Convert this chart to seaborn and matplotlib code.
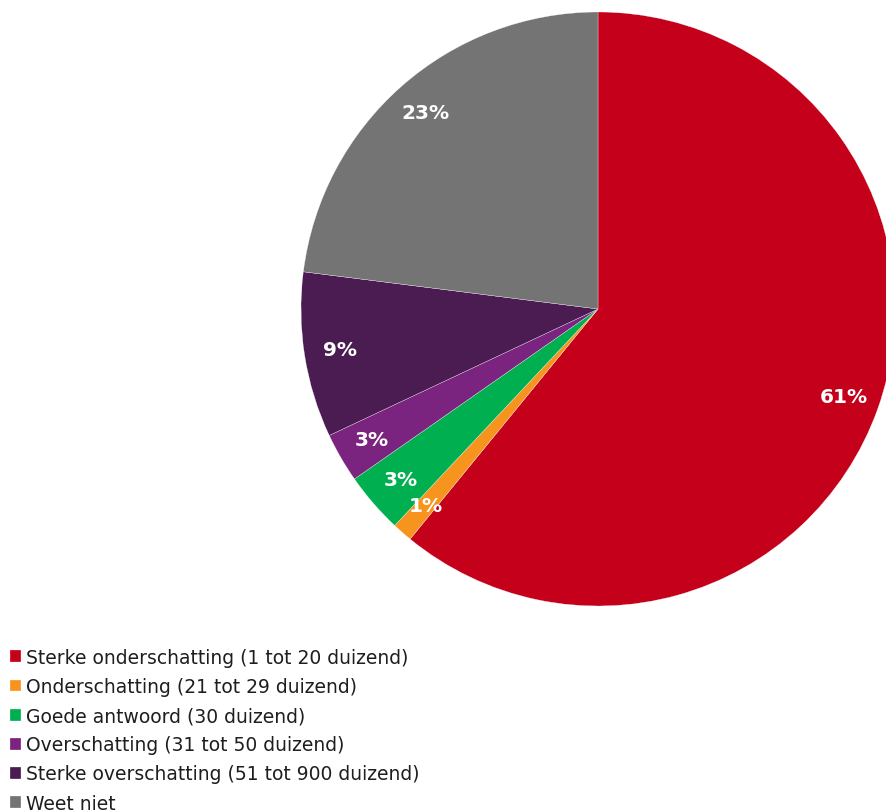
import matplotlib
matplotlib.use('Agg')
import matplotlib.pyplot as plt
import seaborn as sns

categories = ['Sterke onderschatting (1 tot 20 duizend)',
              'Onderschatting (21 tot 29 duizend)',
              'Goede antwoord (30 duizend)',
              'Overschatting (31 tot 50 duizend)',
              'Sterke overschatting (51 tot 900 duizend)',
              'Weet niet']
values = [60.9, 1.1, 3.3, 2.7, 9.0, 23.0]
hex_colors = ['#C5001A', '#F7941D', '#00B050', '#7A237F', '#4A1C52', '#747474']

sns.set_style('white')
plt.rcParams['font.family'] = ['DejaVu Sans']
plt.rcParams['text.color'] = '#1e1e1e'
colors = sns.color_palette(hex_colors)

fig = plt.figure(figsize=(8.87, 8.12), dpi=100)
# pie box in pixels: left 301, top 13, size 594
ax = fig.add_axes([301 / 887, (812 - 607) / 812, 594 / 887, 594 / 812])
wedges, texts, autotexts = ax.pie(values, colors=colors, startangle=90, counterclock=False,
                                  autopct='%.0f%%', pctdistance=0.88,
                                  wedgeprops=dict(edgecolor='white', linewidth=0.2),
                                  textprops=dict(color='white', fontsize=14.5, fontweight='bold'))
ax.set_xlim(-1, 1)
ax.set_ylim(-1, 1)
ax.set_aspect('auto')
ax.axis('off')

fig.legend(wedges, categories, loc='upper left', bbox_to_anchor=(0.011, 1 - 649 / 812),
           frameon=False, fontsize=13.5, handlelength=0.6, handleheight=0.6,
           handletextpad=0.25, labelspacing=0.54, borderpad=0, borderaxespad=0)

fig.savefig('out.png', dpi=100)
